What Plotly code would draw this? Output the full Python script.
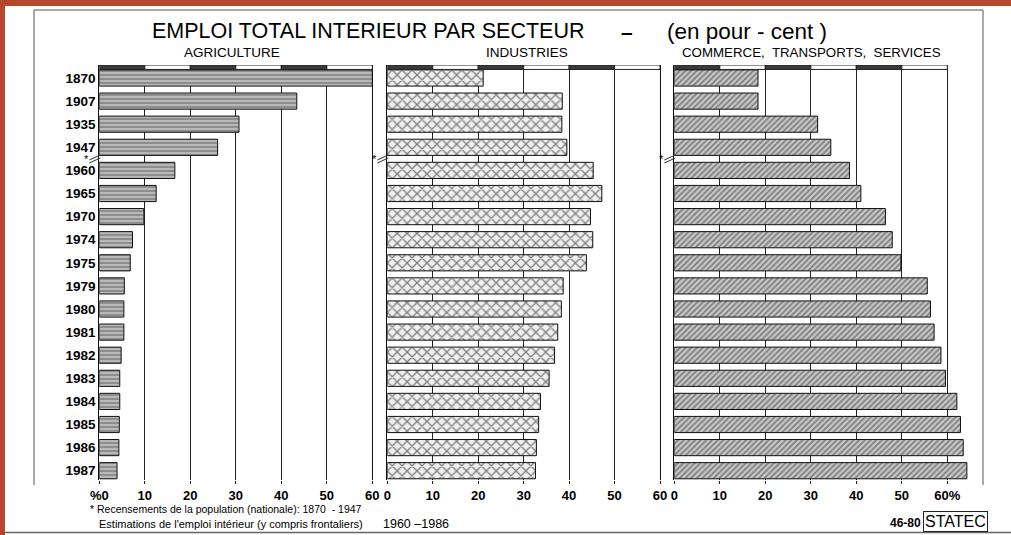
import plotly.graph_objects as go

W, H = 1011, 535

years = ["1870", "1907", "1935", "1947", "1960", "1965", "1970", "1974", "1975",
         "1979", "1980", "1981", "1982", "1983", "1984", "1985", "1986", "1987"]
agriculture = [60.0, 43.4, 30.7, 26.0, 16.6, 12.5, 9.8, 7.3, 6.8,
               5.5, 5.4, 5.4, 4.8, 4.5, 4.5, 4.4, 4.3, 3.9]
industries = [21.1, 38.5, 38.4, 39.5, 45.3, 47.2, 44.7, 45.2, 43.8,
              38.7, 38.3, 37.5, 36.8, 35.6, 33.7, 33.3, 32.8, 32.6]
services = [18.4, 18.4, 31.5, 34.4, 38.5, 41.0, 46.4, 47.9, 49.8,
            55.6, 56.3, 57.1, 58.6, 59.6, 62.1, 62.9, 63.5, 64.3]

ticks = [0, 10, 20, 30, 40, 50, 60]
agri_ticktext = ["%0", "10", "20", "30", "40", "50", "60"]
ind_ticktext = ["0", "10", "20", "30", "40", "50", "60"]
serv_ticktext = ["0", "10", "20", "30", "40", "50", "60%"]

title_main = "EMPLOI TOTAL INTERIEUR PAR SECTEUR"
title_sub = "(en pour - cent )"
panel_titles = ["AGRICULTURE", "INDUSTRIES", "COMMERCE,  TRANSPORTS,  SERVICES"]
note1 = "* Recensements de la population (nationale): 1870  - 1947"
note2 = "Estimations de l'emploi intérieur (y compris frontaliers)"
note2b = "1960 –1986"

def px(x):
    return x / W

def py(y):
    return 1 - y / H

FONT = "Liberation Sans, Arial, sans-serif"

# panel pixel extents
panels = [(99.3, 372.3, 60), (387.3, 660.0, 60), (674.3, 983.0, (983.0 - 674.3) / 4.55)]
y_top_px, y_bot_px = 65.0, 480.0
row0_px, step_px = 78.0, 23.1
y_range = [(y_bot_px - row0_px) / step_px, (y_top_px - row0_px) / step_px]

fig = go.Figure()

series = [agriculture, industries, services]
styles = [
    dict(color="#b8b8b8", line=dict(color="#111", width=1),
         pattern=dict(shape="-", fgcolor="#2a2a2a", size=4, solidity=0.3)),
    dict(color="#f0f0f0", line=dict(color="#111", width=1),
         pattern=dict(shape="x", fgcolor="#111", size=7, solidity=0.35)),
    dict(color="#c8c8c8", line=dict(color="#111", width=1),
         pattern=dict(shape="/", fgcolor="#333", size=4, solidity=0.45)),
]
for i, (vals, st) in enumerate(zip(series, styles)):
    sfx = "" if i == 0 else str(i + 1)
    fig.add_trace(go.Bar(y=years, x=vals, orientation="h", width=0.7,
                         marker=st, xaxis="x" + sfx, yaxis="y" + sfx,
                         showlegend=False, hoverinfo="x+y"))

texts = [agri_ticktext, ind_ticktext, serv_ticktext]
layout = dict(width=W, height=H, margin=dict(l=0, r=0, t=0, b=0),
              paper_bgcolor="white", plot_bgcolor="white", bargap=0.3,
              font=dict(family=FONT, color="black"))
for i, (x0, x1, xmax) in enumerate(panels):
    sfx = "" if i == 0 else str(i + 1)
    layout["xaxis" + sfx] = dict(
        domain=[px(x0), px(x1)], range=[0, xmax], anchor="y" + sfx,
        tickvals=ticks, ticktext=texts[i], showgrid=True, gridcolor="#222",
        gridwidth=1, zeroline=False, showline=False, ticks="outside",
        ticklen=3, tickcolor="#222", automargin=False, fixedrange=True,
        tickfont=dict(family=FONT, size=13, color="black", weight="bold"))
    layout["yaxis" + sfx] = dict(
        domain=[py(y_bot_px), py(y_top_px)], range=y_range, anchor="x" + sfx,
        type="category", categoryorder="array", categoryarray=years,
        showticklabels=(i == 0), showgrid=False, zeroline=False,
        showline=True, linecolor="#111", linewidth=1, mirror=(i < 2),
        ticks="", automargin=False, fixedrange=True,
        tickfont=dict(family=FONT, size=13.5, color="black", weight="bold"))
fig.update_layout(**layout)

shapes = []
# header strips (alternating dark / white per 10 units)
for i in range(3):
    sfx = "" if i == 0 else str(i + 1)
    for k in range(6):
        shapes.append(dict(type="rect", xref="x" + sfx, yref="y" + sfx,
                           x0=ticks[k], x1=ticks[k + 1], y0=y_range[1], y1=-0.37,
                           fillcolor="#3a3a3a" if k % 2 == 0 else "white",
                           line=dict(color="#222", width=1), layer="above"))
# frame
shapes += [
    dict(type="line", xref="paper", yref="paper", x0=px(34), x1=px(34), y0=py(10), y1=py(485), line=dict(color="#555", width=1)),
    dict(type="line", xref="paper", yref="paper", x0=px(34), x1=px(983), y0=py(10), y1=py(10), line=dict(color="#555", width=1)),
    dict(type="line", xref="paper", yref="paper", x0=px(983), x1=px(983), y0=py(10), y1=py(485), line=dict(color="#555", width=1)),
    dict(type="line", xref="paper", yref="paper", x0=px(4), x1=1, y0=py(532.5), y1=py(532.5), line=dict(color="#666", width=1.5)),
    dict(type="rect", xref="paper", yref="paper", x0=0, x1=px(5), y0=0, y1=1, fillcolor="#b5472f", line=dict(width=0)),
    dict(type="rect", xref="paper", yref="paper", x0=0, x1=1, y0=py(6), y1=1, fillcolor="#b5472f", line=dict(width=0)),
]
# break marks between 1947 and 1960
for (x0, _, _) in panels:
    for dy in (0, 3):
        shapes.append(dict(type="line", xref="paper", yref="paper",
                           x0=px(x0 - 10), x1=px(x0 + 1), y0=py(160 + dy), y1=py(155 + dy),
                           line=dict(color="#333", width=1)))

annotations = [
    dict(text=title_main, x=px(150), y=py(31), xanchor="left", yanchor="middle",
         font=dict(size=21.5, family=FONT)),
    dict(text="–", x=px(627), y=py(31), xanchor="center", yanchor="middle",
         font=dict(size=21, family=FONT, weight="bold")),
    dict(text=title_sub, x=px(665), y=py(31), xanchor="left", yanchor="middle",
         font=dict(size=22.5, family=FONT)),
    dict(text=panel_titles[0], x=px(232), y=py(53), xanchor="center", yanchor="middle",
         font=dict(size=13.5, family=FONT)),
    dict(text=panel_titles[1], x=px(527), y=py(53), xanchor="center", yanchor="middle",
         font=dict(size=13.5, family=FONT)),
    dict(text=panel_titles[2], x=px(680), y=py(53), xanchor="left", yanchor="middle",
         font=dict(size=13.3, family=FONT)),
    dict(text=note1, x=px(88), y=py(509), xanchor="left", yanchor="middle",
         font=dict(size=10.5, family=FONT)),
    dict(text=note2, x=px(97), y=py(524), xanchor="left", yanchor="middle",
         font=dict(size=11, family=FONT)),
    dict(text=note2b, x=px(381), y=py(524), xanchor="left", yanchor="middle",
         font=dict(size=12.5, family=FONT)),
    dict(text="46-80", x=px(923), y=py(523), xanchor="right", yanchor="middle",
         font=dict(size=12, family=FONT, weight="bold")),
    dict(text="STATEC", x=px(955), y=py(521), xanchor="center", yanchor="middle",
         font=dict(size=16, family=FONT), bordercolor="#222", borderwidth=1, borderpad=1),
]
for (x0, _, _) in panels:
    annotations.append(dict(text="*", x=px(x0 - 13), y=py(159), xanchor="center",
                            yanchor="middle", font=dict(size=11, family=FONT)))
for a in annotations:
    a.update(xref="paper", yref="paper", showarrow=False)

fig.update_layout(shapes=shapes, annotations=annotations)
fig.write_html("out.html", config={"displayModeBar": False},
               post_script="document.body.style.margin='0';document.body.style.overflow='hidden';")
